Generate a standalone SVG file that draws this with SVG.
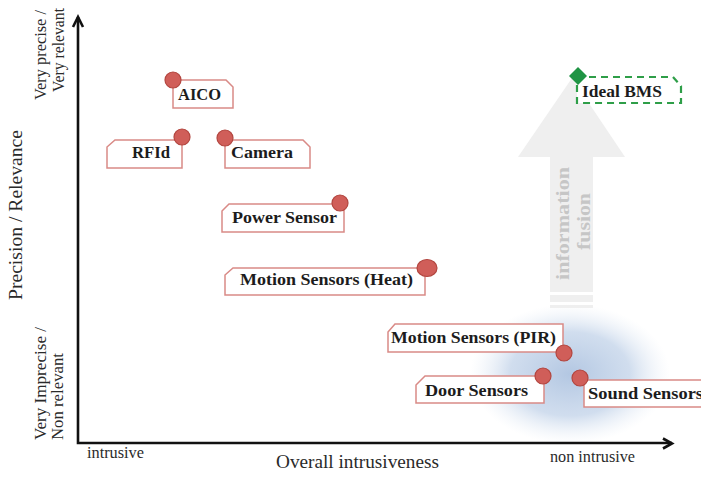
<svg xmlns="http://www.w3.org/2000/svg" width="701" height="479" viewBox="0 0 701 479">
  <defs>
    <radialGradient id="glow" cx="0.5" cy="0.5" r="0.5">
      <stop offset="0" stop-color="#b3c7e2" stop-opacity="1"/>
      <stop offset="0.6" stop-color="#c5d5ea" stop-opacity="0.8"/>
      <stop offset="1" stop-color="#e6edf6" stop-opacity="0"/>
    </radialGradient>
  </defs>
  <style>
    .axis { fill: none; stroke: #111; stroke-width: 2.6; stroke-linecap: butt; }
    .axtxt { font-family: "Liberation Serif", "Times New Roman", serif; fill: #2a2a2a; }
    .box { fill: #fff; stroke: #d98a86; stroke-width: 1.5; stroke-linejoin: miter; }
    .dot { fill: #d05e59; stroke: #b2463f; stroke-width: 1.2; }
    .lbl { font-family: "Liberation Serif", "Times New Roman", serif; font-weight: bold; font-size: 16px; fill: #1c1c1c; }
    .ideal { fill: #fff; stroke: #2e9e48; stroke-width: 2.2; stroke-dasharray: 7 5; }
    .fusion { fill: #efefef; }
    .fustxt { font-family: "Liberation Serif", "Times New Roman", serif; font-weight: bold; font-size: 19px; fill: #c6c6c6; }
  </style>

  <!-- soft highlight behind the unobtrusive sensors -->
  <ellipse cx="570" cy="374" rx="100" ry="70" fill="url(#glow)"/>

  <!-- information fusion arrow -->
  <g id="fusion-arrow">
    <polygon class="fusion" points="572,78 625,157 593,157 593,292 550,292 550,157 518,157"/>
    <rect class="fusion" x="550" y="295" width="43" height="7"/>
    <rect class="fusion" x="550" y="305" width="43" height="3"/>
    <text class="fustxt" transform="translate(569,280) rotate(-90)" textLength="113" lengthAdjust="spacingAndGlyphs">information</text>
    <text class="fustxt" transform="translate(590,250) rotate(-90)" textLength="57" lengthAdjust="spacingAndGlyphs">fusion</text>
  </g>

  <!-- axes -->
  <g id="axes">
    <polyline class="axis" points="78,17 78,443 672,443"/>
    <polyline class="axis" points="73,27 78,17 83,27"/>
    <polyline class="axis" points="663,438.5 672,443.5 663,448.5"/>
    <text class="axtxt" font-size="19" transform="translate(22,300) rotate(-90)" textLength="170" lengthAdjust="spacingAndGlyphs">Precision / Relevance</text>
    <text class="axtxt" font-size="16" transform="translate(46,100) rotate(-90)" textLength="90" lengthAdjust="spacingAndGlyphs">Very precise /</text>
    <text class="axtxt" font-size="16" transform="translate(64,92) rotate(-90)" textLength="84" lengthAdjust="spacingAndGlyphs">Very relevant</text>
    <text class="axtxt" font-size="17" transform="translate(46,440) rotate(-90)" textLength="113" lengthAdjust="spacingAndGlyphs">Very Imprecise /</text>
    <text class="axtxt" font-size="17" transform="translate(63,440) rotate(-90)" textLength="87" lengthAdjust="spacingAndGlyphs">Non relevant</text>
    <text class="axtxt" font-size="16" x="87" y="458" textLength="57" lengthAdjust="spacingAndGlyphs">intrusive</text>
    <text class="axtxt" font-size="16" x="550" y="462" textLength="85" lengthAdjust="spacingAndGlyphs">non intrusive</text>
    <text class="axtxt" font-size="18" x="276" y="468" textLength="163" lengthAdjust="spacingAndGlyphs">Overall intrusiveness</text>
  </g>

  <!-- sensors -->
  <g id="aico">
    <path class="box" d="M173,80 L226,80 L233,87 L233,108 L173,108 Z"/>
    <circle class="dot" cx="173" cy="80" r="8"/>
    <text class="lbl" x="178" y="100" textLength="43" lengthAdjust="spacingAndGlyphs">AICO</text>
  </g>
  <g id="rfid">
    <path class="box" d="M107,147 L115,140 L182,140 L182,168 L107,168 Z"/>
    <circle class="dot" cx="182" cy="137" r="8"/>
    <text class="lbl" x="132" y="158" textLength="38" lengthAdjust="spacingAndGlyphs">RFId</text>
  </g>
  <g id="camera">
    <path class="box" d="M225,140 L303,140 L310,147 L310,168 L225,168 Z"/>
    <circle class="dot" cx="225" cy="138" r="8"/>
    <text class="lbl" x="231" y="158" textLength="62" lengthAdjust="spacingAndGlyphs">Camera</text>
  </g>
  <g id="power-sensor">
    <path class="box" d="M222,211 L229,204 L344,204 L344,232 L222,232 Z"/>
    <circle class="dot" cx="340" cy="203" r="8"/>
    <text class="lbl" x="232" y="223" textLength="105" lengthAdjust="spacingAndGlyphs">Power Sensor</text>
  </g>
  <g id="motion-heat">
    <path class="box" d="M225,275 L233,268 L425,268 L425,295 L225,295 Z"/>
    <ellipse class="dot" cx="427" cy="268" rx="10" ry="8.5"/>
    <text class="lbl" x="240" y="285" textLength="173" lengthAdjust="spacingAndGlyphs">Motion Sensors (Heat)</text>
  </g>
  <g id="motion-pir">
    <path class="box" d="M388,332 L395,324 L563,324 L563,352 L388,352 Z"/>
    <circle class="dot" cx="564" cy="353" r="8"/>
    <text class="lbl" x="391" y="343" textLength="165" lengthAdjust="spacingAndGlyphs">Motion Sensors (PIR)</text>
  </g>
  <g id="door-sensors">
    <path class="box" d="M416,385 L425,376 L544,376 L544,403 L416,403 Z"/>
    <circle class="dot" cx="543" cy="376" r="8"/>
    <text class="lbl" x="425" y="396" textLength="103" lengthAdjust="spacingAndGlyphs">Door Sensors</text>
  </g>
  <g id="sound-sensors">
    <path class="box" d="M584,380 L712,380 L712,407 L584,407 Z"/>
    <circle class="dot" cx="580" cy="378" r="8"/>
    <text class="lbl" x="588" y="399" textLength="115" lengthAdjust="spacingAndGlyphs">Sound Sensors</text>
  </g>
  <g id="ideal-bms">
    <path class="ideal" d="M577,77 L673,77 L681,86 L681,103 L577,103 Z"/>
    <polygon points="578,67 587,76 578,85 569,76" fill="#1f9444"/>
    <text class="lbl" x="582" y="97" textLength="80" lengthAdjust="spacingAndGlyphs">Ideal BMS</text>
  </g>
</svg>
